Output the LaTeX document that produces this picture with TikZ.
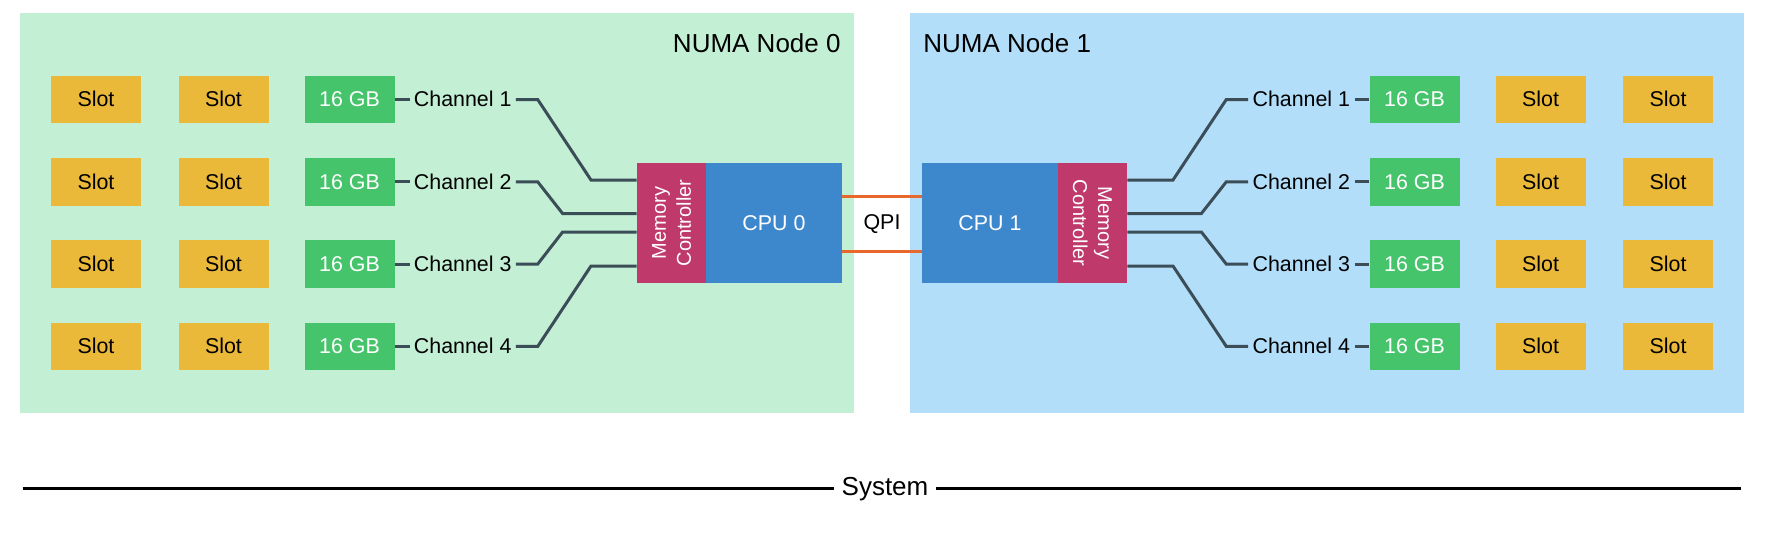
\documentclass[tikz,border=0pt]{standalone}
\usepackage{fontspec}
\setmainfont{Liberation Sans}
\definecolor{greenp}{HTML}{C3EFD4}
\definecolor{bluep}{HTML}{B3DEFA}
\definecolor{slotc}{HTML}{EBB93A}
\definecolor{dimmc}{HTML}{46C46C}
\definecolor{mcc}{HTML}{BF3A6A}
\definecolor{cpuc}{HTML}{3D88CD}
\definecolor{qpic}{HTML}{E8672A}
\definecolor{wirec}{HTML}{3B4D57}
\begin{document}
\begin{tikzpicture}[x=0.5pt,y=-0.5pt,
  txt/.style={font=\fontsize{10.7}{12}\selectfont, inner sep=0pt, text height=0.72em, text depth=0pt},
  box/.style={txt, minimum width=45pt, minimum height=23.75pt},
  slotbox/.style={box, fill=slotc, text=black},
  dimm/.style={box, fill=dimmc, text=white},
  chlabel/.style={txt, inner xsep=2pt},
  mcbox/.style={fill=mcc, minimum width=34.5pt, minimum height=60pt, inner sep=0pt},
  mctext/.style={font=\fontsize{10}{12.5}\selectfont, text=white, align=center, inner sep=0pt},
  cpubox/.style={txt, fill=cpuc, text=white, minimum width=68pt, minimum height=60pt},
  panel/.style={inner sep=0pt, minimum width=417pt, minimum height=200pt},
  numa/.style={font=\fontsize{13}{15}\selectfont, inner sep=0pt},
  wire/.style={draw=wirec, line width=1.5pt},
  qpiline/.style={draw=qpic, line width=1.5pt},
]
\useasboundingbox (0,0) rectangle (1772,532);

% panels
\node[panel, fill=greenp] (numa0) at (437,213) {};
\node[panel, fill=bluep] (numa1) at (1327,213) {};
\node[numa, anchor=base east] (numa0label) at (841,52.7) {NUMA Node 0};
\node[numa, anchor=base west] (numa1label) at (923,52.7) {NUMA Node 1};

% CPUs and memory controllers
\node[mcbox] (L-mc) at (671.5,223) {};
\node[mctext, rotate=90] (L-mct) at (L-mc) {Memory\\Controller};
\node[cpubox] (cpu0) at (774,223) {CPU 0};
\node[cpubox] (cpu1) at (990,223) {CPU 1};
\node[mcbox] (R-mc) at (1092.5,223) {};
\node[mctext, rotate=-90] (R-mct) at (R-mc) {Memory\\Controller};

% QPI
\coordinate (q1) at (0,196.7);
\coordinate (q2) at (0,251.3);
\draw[qpiline] (cpu0.east |- q1) -- (cpu1.west |- q1);
\draw[qpiline] (cpu0.east |- q2) -- (cpu1.west |- q2);
\node[txt] (qpi) at (882,222) {QPI};

% memory rows
\foreach \i/\y in {1/99.5,2/181.8,3/264.1,4/346.4} {
  \node[slotbox] (L-s1-\i) at (96,\y) {Slot};
  \node[slotbox] (L-s2-\i) at (223.5,\y) {Slot};
  \node[dimm] (L-d-\i) at (349.5,\y) {16 GB};
  \node[chlabel, anchor=west] (L-ch-\i) at (409.5,\y) {Channel \i};
  \draw[wire] (L-d-\i.east) -- (L-ch-\i.west);
  \node[slotbox] (R-s1-\i) at (1668,\y) {Slot};
  \node[slotbox] (R-s2-\i) at (1540.5,\y) {Slot};
  \node[dimm] (R-d-\i) at (1414.5,\y) {16 GB};
  \node[chlabel, anchor=east] (R-ch-\i) at (1354.5,\y) {Channel \i};
  \draw[wire] (R-d-\i.west) -- (R-ch-\i.east);
}

% channel connectors, left
\coordinate (L-b1) at (591,180);
\coordinate (L-b2) at (562.6,213.5);
\coordinate (L-b3) at (562.6,232);
\coordinate (L-b4) at (591,266);
\draw[wire] (L-ch-1.east) -- (537.7,99.5) -- (L-b1) -- (L-mc.west |- L-b1);
\draw[wire] (L-ch-2.east) -- (537.7,181.8) -- (L-b2) -- (L-mc.west |- L-b2);
\draw[wire] (L-ch-3.east) -- (537.7,264.1) -- (L-b3) -- (L-mc.west |- L-b3);
\draw[wire] (L-ch-4.east) -- (537.7,346.4) -- (L-b4) -- (L-mc.west |- L-b4);

% channel connectors, right
\coordinate (R-b1) at (1173,180);
\coordinate (R-b2) at (1201.4,213.5);
\coordinate (R-b3) at (1201.4,232);
\coordinate (R-b4) at (1173,266);
\draw[wire] (R-ch-1.west) -- (1226.3,99.5) -- (R-b1) -- (R-mc.east |- R-b1);
\draw[wire] (R-ch-2.west) -- (1226.3,181.8) -- (R-b2) -- (R-mc.east |- R-b2);
\draw[wire] (R-ch-3.west) -- (1226.3,264.1) -- (R-b3) -- (R-mc.east |- R-b3);
\draw[wire] (R-ch-4.west) -- (1226.3,346.4) -- (R-b4) -- (R-mc.east |- R-b4);

% system line
\node[font=\fontsize{13}{15}\selectfont, inner ysep=0pt, inner xsep=3.5pt, text height=0.72em, text depth=0pt] (sys) at (885,488.5) {System};
\coordinate (sysL) at (22.6,488.5);
\coordinate (sysR) at (1741.4,488.5);
\draw[line width=1.5pt] (sysL) -- (sys.west);
\draw[line width=1.5pt] (sys.east) -- (sysR);
\end{tikzpicture}
\end{document}
